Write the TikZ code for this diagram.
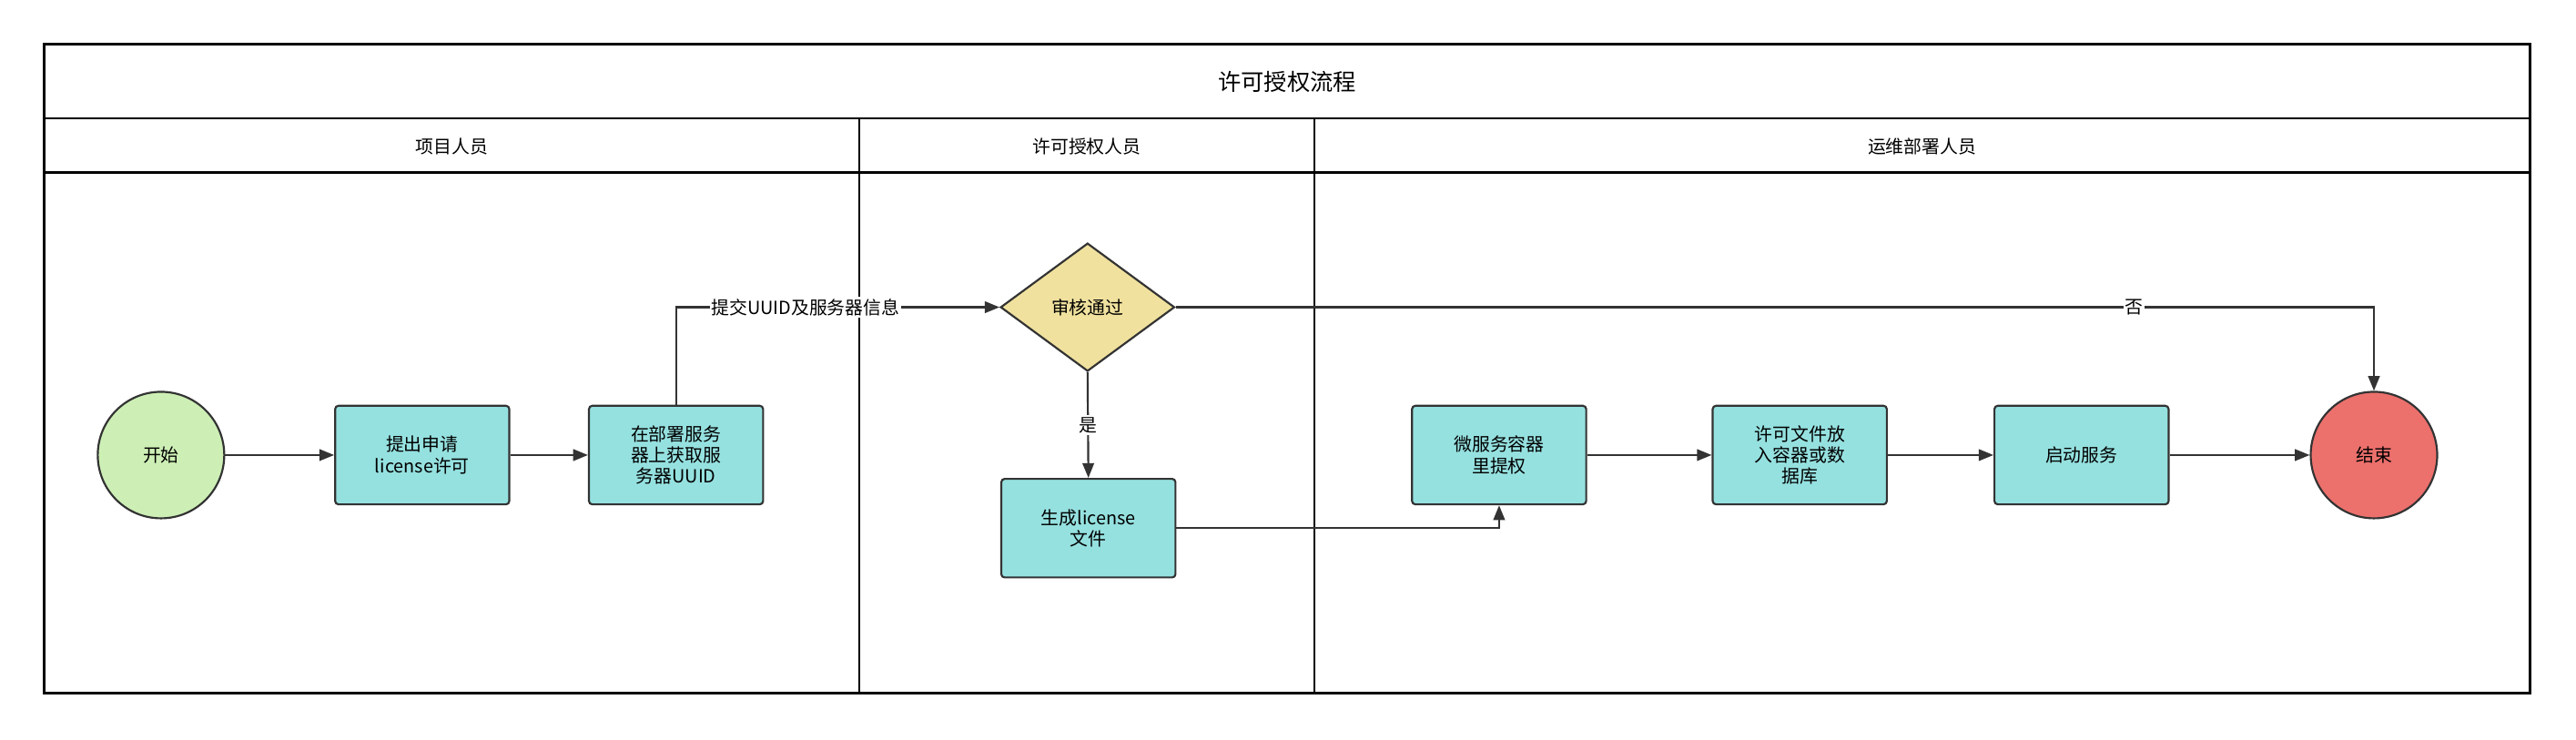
\documentclass[tikz,border=0pt]{standalone}
\usepackage{fontspec}
\setmainfont{Noto Sans CJK SC}
\usetikzlibrary{shapes.geometric,arrows.meta}
\definecolor{cgreen}{HTML}{CDEFB5}
\definecolor{ccyan}{HTML}{95E1E0}
\definecolor{cyel}{HTML}{F0E19E}
\definecolor{cred}{HTML}{EC706C}
\definecolor{cline}{HTML}{333333}
\begin{document}
\begin{tikzpicture}[x=1pt,y=-1pt,font=\fontsize{11}{13}\selectfont,
 box/.style={draw=cline,line width=1.2pt,fill=ccyan,rounded corners=2pt,minimum width=106pt,minimum height=60pt,align=center,text width=90pt},
 circ/.style={draw=cline,line width=1.2pt,circle,minimum size=77pt},
 arr/.style={draw=cline,line width=1.2pt,-{Triangle[length=9pt,width=7pt]}},
 lab/.style={fill=white,inner sep=1pt},
 frame/.style={draw=black,line width=1.4pt}]
\useasboundingbox (0,0) rectangle (1568,450);
\draw[frame] (27,27) rectangle (1540,422);
\draw[frame] (27,72) -- (1540,72);
\draw[frame] (27,105) -- (1540,105);
\draw[frame] (523,72) -- (523,422);
\draw[frame] (800,72) -- (800,422);
\node (title) at (783.5,50) {\fontsize{14}{16}\selectfont 许可授权流程};
\node (h1) at (275,89) {项目人员};
\node (h2) at (661.5,89) {许可授权人员};
\node (h3) at (1170,89) {运维部署人员};
\node[circ,fill=cgreen] (start) at (98,277) {开始};
\node[box] (b1) at (257,277) {提出申请\\license许可};
\node[box] (b2) at (411.5,277) {在部署服务\\器上获取服\\务器UUID};
\node[diamond,draw=cline,line width=1.2pt,fill=cyel,minimum width=106pt,minimum height=78pt,inner sep=0pt] (d) at (662,187) {审核通过};
\node[box] (b3) at (662.5,321.5) {生成license\\文件};
\node[box] (b4) at (912.5,277) {微服务容器\\里提权};
\node[box] (b5) at (1095.5,277) {许可文件放\\入容器或数\\据库};
\node[box] (b6) at (1267,277) {启动服务};
\node[circ,fill=cred] (end) at (1445,277) {结束};
\draw[arr] (start) -- (b1);
\draw[arr] (b1) -- (b2);
\draw[arr] (b2.north) |- node[lab,pos=0.7] {提交UUID及服务器信息} (d.west);
\draw[arr] (d.east) -| node[lab,pos=0.4] {否} (end.north);
\draw[arr] (d.south) -- node[lab] {是} (b3.north);
\draw[arr] (b3.east) -| (b4.south);
\draw[arr] (b4) -- (b5);
\draw[arr] (b5) -- (b6);
\draw[arr] (b6) -- (end);
\end{tikzpicture}
\end{document}
